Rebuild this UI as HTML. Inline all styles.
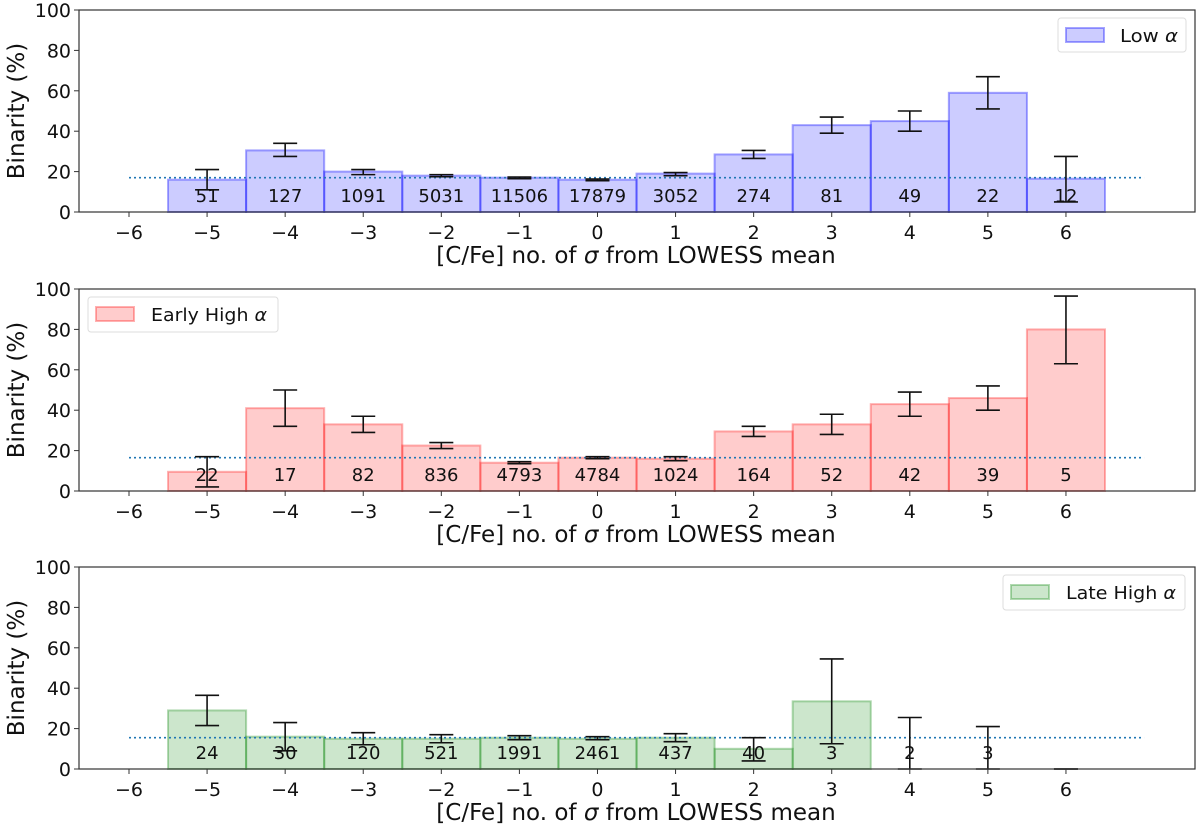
<!DOCTYPE html>
<html><head><meta charset="utf-8"><style>
body{margin:0;background:#fff;}
svg text{font-family:"DejaVu Sans","Liberation Sans",sans-serif;fill:#111;}
</style></head><body>
<svg id="chart" width="1200" height="825" viewBox="0 0 1200 825" xmlns="http://www.w3.org/2000/svg"></svg>
<script>
const categories=[-5,-4,-3,-2,-1,0,1,2,3,4,5,6];
const xTicks=[-6,-5,-4,-3,-2,-1,0,1,2,3,4,5,6];
const yTicks=[0,20,40,60,80,100];
const lowVals=[16,30.5,20,18,17,16,19,28.5,43,45,59,16.5];
const lowLo=[11,27.5,18.5,17.5,16.5,15.5,18,26.5,39,40,51,5];
const lowHi=[21,34,21,18.5,17.3,16.3,19.5,30.5,47,50,67,27.5];
const lowCounts=["51","127","1091","5031","11506","17879","3052","274","81","49","22","12"];
const lowMean=17;
const earlyVals=[9.5,41,33,22.5,14,16.5,16,29.5,33,43,46,80];
const earlyLo=[2,32,29,21,13.5,16,15,27,28,37,40,63];
const earlyHi=[17,50,37,24,14.5,17,17,32,38,49,52,96.5];
const earlyCounts=["22","17","82","836","4793","4784","1024","164","52","42","39","5"];
const earlyMean=16.5;
const lateVals=[29,16,15,15,15.5,15,15.5,10,33.5,0,0,0];
const lateLo=[21.5,9,12,13,14.5,14.5,13.5,4,12.5,0,0,0];
const lateHi=[36.5,23,18,17,16.5,16,17.5,15.5,54.5,25.5,21,0];
const lateCounts=["24","30","120","521","1991","2461","437","40","3","2","3",""];
const lateMean=15.5;

const NS="http://www.w3.org/2000/svg";
const svg=document.getElementById('chart');
function mk(tag,attrs,parent,txt){const e=document.createElementNS(NS,tag);for(const k in attrs)e.setAttribute(k,attrs[k]);if(txt!==undefined)e.textContent=txt;(parent||svg).appendChild(e);return e;}
const L=79,R=1195;
const xs=v=>129+(v+6)*78.08;
const panels=[
 {top:10,vals:lowVals,lo:lowLo,hi:lowHi,counts:lowCounts,mean:lowMean,fill:"rgba(0,0,255,0.2)",edge:"rgba(0,0,255,0.35)",label:"Low ",legend:{x:1058,y:18,w:128,h:34,tx:1120,tl:58},name:"low-alpha"},
 {top:289,vals:earlyVals,lo:earlyLo,hi:earlyHi,counts:earlyCounts,mean:earlyMean,fill:"rgba(255,0,0,0.2)",edge:"rgba(255,0,0,0.3)",label:"Early High ",legend:{x:88,y:297,w:190,h:35,tx:151,tl:116},name:"early-high-alpha"},
 {top:567,vals:lateVals,lo:lateLo,hi:lateHi,counts:lateCounts,mean:lateMean,fill:"rgba(0,128,0,0.2)",edge:"rgba(0,128,0,0.3)",label:"Late High ",legend:{x:1003,y:575,w:182,h:35,tx:1066,tl:110},name:"late-high-alpha"}
];
panels.forEach((p,pi)=>{
 const H=202,bot=p.top+H;
 const ys=v=>bot-v/100*H;
 const g=mk('g',{});
 
 
 categories.forEach((c,i)=>{
  const x0=xs(c-0.5),y=ys(p.vals[i]);
  const r=mk('rect',{x:x0,y:y,width:78.08,height:bot-y,fill:p.fill,stroke:p.edge,'stroke-width':2},g);
  
  
 });
 const ml=mk('line',{x1:xs(-6),x2:xs(7),y1:ys(p.mean),y2:ys(p.mean),stroke:'#1f77b4','stroke-width':1.6,'stroke-dasharray':'2,3'},g);
 
 
 categories.forEach((c,i)=>{
  if(p.counts[i]==="")return;
  const t=mk('text',{x:xs(c),y:bot-10,'font-size':18,'text-anchor':'middle'},g,p.counts[i]);
  
  
 });
 categories.forEach((c,i)=>{
  const x=xs(c),y1=ys(p.lo[i]),y2=ys(p.hi[i]);
  const eg=mk('g',{stroke:'#111','stroke-width':1.6},g);
  
  
  mk('line',{x1:x,x2:x,y1:y1,y2:y2},eg);
  mk('line',{x1:x-12,x2:x+12,y1:y1,y2:y1},eg);
  mk('line',{x1:x-12,x2:x+12,y1:y2,y2:y2},eg);
 });
 const fr=mk('rect',{x:L,y:p.top,width:R-L,height:H,fill:'none',stroke:'#333','stroke-width':1.2},g);
 
 
 yTicks.forEach(v=>{
  mk('line',{x1:L-5,x2:L,y1:ys(v),y2:ys(v),stroke:'#333'},g);
  const t=mk('text',{x:L-8,y:ys(v)+7,'font-size':19,'text-anchor':'end'},g,v);
  
  
 });
 xTicks.forEach(v=>{
  mk('line',{x1:xs(v),x2:xs(v),y1:bot,y2:bot+5,stroke:'#333'},g);
  const t=mk('text',{x:xs(v),y:bot+27,'font-size':19,'text-anchor':'middle'},g,v<0?'\u2212'+(-v):String(v));
  
  
 });
 const xt=mk('text',{x:(L+R)/2-1,y:bot+51,'font-size':23,'text-anchor':'middle'},g);
 
 
 xt.appendChild(document.createTextNode('[C/Fe] no. of '));
 mk('tspan',{'font-style':'italic'},xt,'\u03c3');
 xt.appendChild(document.createTextNode(' from LOWESS mean'));
 const yt=mk('text',{x:0,y:0,'font-size':23,'text-anchor':'middle',transform:`translate(24,${p.top+H/2}) rotate(-90)`},g,'Binarity (%)');
 
 
 const lg=mk('g',{},g);
 
 
 const b=p.legend;
 mk('rect',{x:b.x,y:b.y,width:b.w,height:b.h,rx:3,fill:'#fff',stroke:'#ddd'},lg);
 mk('rect',{x:b.x+8,y:b.y+10,width:38,height:14,fill:p.fill,stroke:p.edge,'stroke-width':2},lg);
 const lt=mk('text',{x:b.tx,y:b.y+24,'font-size':18,textLength:b.tl,lengthAdjust:'spacingAndGlyphs'},lg,p.label);
 mk('tspan',{'font-style':'italic'},lt,'\u03b1');
});
</script>
</body></html>
